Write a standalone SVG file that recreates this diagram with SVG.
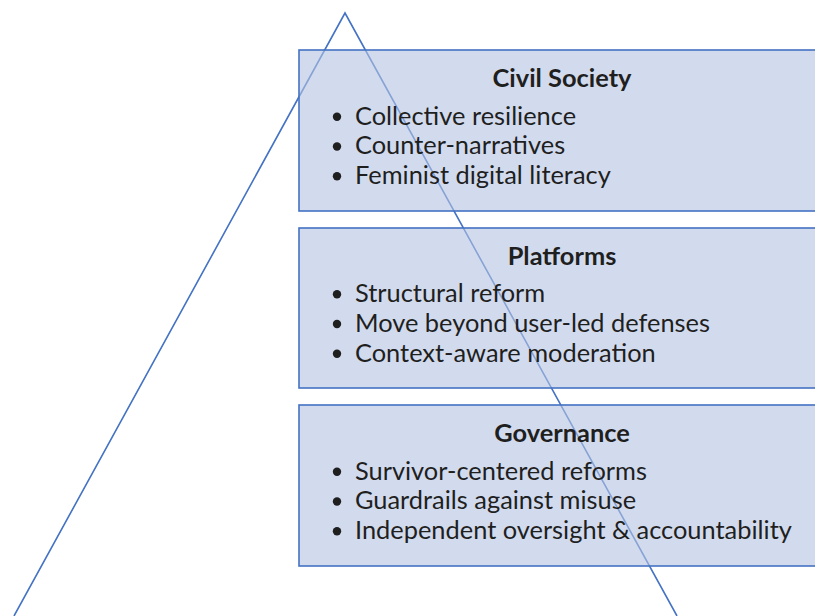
<svg xmlns="http://www.w3.org/2000/svg" width="815" height="616" viewBox="0 0 815 616">
  <style>
    .box { fill: rgb(180,195,225); fill-opacity: 0.6; stroke: #4472c4; stroke-width: 1.6; }
    .edge { fill: none; stroke: #4472c4; stroke-width: 1.6; }
    .title { font-family: Lato, "Open Sans", sans-serif; font-weight: bold; font-size: 25.4px; fill: #1f1f1f; text-anchor: middle; }
    .item { font-family: Lato, "Open Sans", sans-serif; font-size: 25.4px; fill: #1f1f1f; }
    .dot { fill: #1f1f1f; }
  </style>
  <rect width="815" height="616" fill="#ffffff"/>
  <!-- pyramid outline, drawn beneath the tiers -->
  <g id="connectors">
    <polyline class="edge" points="14,616 345,13 677,616"/>
  </g>
  <g id="civil-society">
    <rect class="box" x="299" y="50" width="530" height="161"/>
    <text class="title" x="562" y="87">Civil Society</text>
    <circle class="dot" cx="337" cy="116.7" r="4.2"/>
    <circle class="dot" cx="337" cy="146.5" r="4.2"/>
    <circle class="dot" cx="337" cy="176.3" r="4.2"/>
    <text class="item" x="355" y="124.5">Collective resilience</text>
    <text class="item" x="355" y="154.2">Counter-narratives</text>
    <text class="item" x="355" y="184">Feminist digital literacy</text>
  </g>
  <g id="platforms">
    <rect class="box" x="299" y="228" width="530" height="160"/>
    <text class="title" x="562" y="265">Platforms</text>
    <circle class="dot" cx="337" cy="294.2" r="4.2"/>
    <circle class="dot" cx="337" cy="324" r="4.2"/>
    <circle class="dot" cx="337" cy="353.8" r="4.2"/>
    <text class="item" x="355" y="302">Structural reform</text>
    <text class="item" x="355" y="331.8">Move beyond user-led defenses</text>
    <text class="item" x="355" y="361.5">Context-aware moderation</text>
  </g>
  <g id="governance">
    <rect class="box" x="299" y="405" width="530" height="161"/>
    <text class="title" x="562" y="442">Governance</text>
    <circle class="dot" cx="337" cy="471.7" r="4.2"/>
    <circle class="dot" cx="337" cy="501.5" r="4.2"/>
    <circle class="dot" cx="337" cy="531.3" r="4.2"/>
    <text class="item" x="355" y="479.5">Survivor-centered reforms</text>
    <text class="item" x="355" y="509.3">Guardrails against misuse</text>
    <text class="item" x="355" y="539">Independent oversight &amp; accountability</text>
  </g>
</svg>
